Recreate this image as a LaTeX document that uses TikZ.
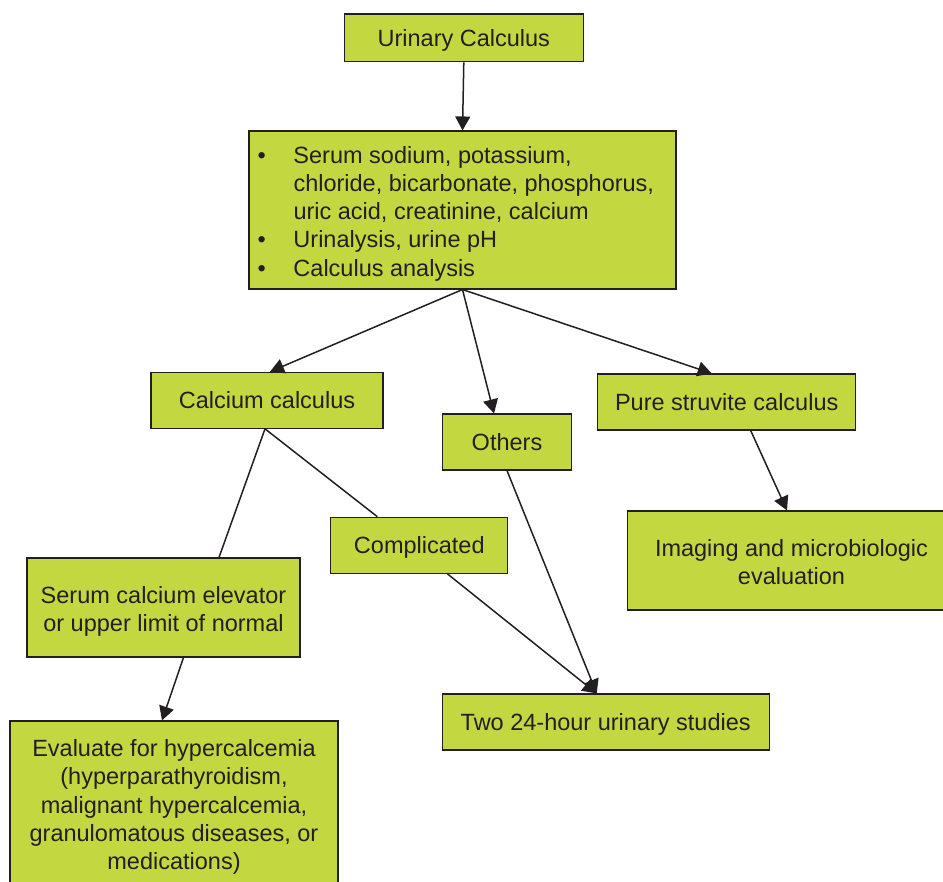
\documentclass[tikz,border=0pt]{standalone}
\usepackage{fontspec}
\setmainfont{Liberation Sans}
\usetikzlibrary{arrows.meta}
\definecolor{boxgreen}{RGB}{195,216,64}
\definecolor{inkdark}{RGB}{35,31,32}
% several centred lines, set a little lower in their box
\newcommand{\lowered}[2][4pt]{\raisebox{-#1}[\height][\depth]{\begin{tabular}{@{}c@{}}#2\end{tabular}}}
\begin{document}
\begin{tikzpicture}[x=1pt, y=-1pt,
    box/.style={draw=inkdark, line width=1.1pt, fill=boxgreen, text=inkdark, rectangle, inner sep=0pt, align=center,
        font=\fontsize{23.5}{28.3}\selectfont,
        execute at begin node={\rule{0pt}{22.8pt}}, execute at end node={\rule[-6pt]{0pt}{0pt}}},
    link/.style={draw=inkdark, line width=1.5pt},
    arr/.style={link, -{Triangle[length=14pt, width=15pt]}}]
    \useasboundingbox (0,0) rectangle (943,882);
    \node at (463.8,37.9) [box, minimum width=239pt, minimum height=47.7pt] (urinary) {Urinary Calculus};
    \node at (462.5,210) [box, minimum width=427pt, minimum height=158pt] (tests) {%
        \raisebox{-4pt}[\height][\depth]{\begin{tabular}{@{}p{36pt}@{}p{374pt}@{}}
            \textbullet & Serum sodium, potassium,\\
                        & chloride, bicarbonate, phosphorus,\\
                        & uric acid, creatinine, calcium\\
            \textbullet & Urinalysis, urine pH\\
            \textbullet & Calculus analysis
        \end{tabular}}};
    \node at (267,400.3) [box, minimum width=232pt, minimum height=56pt] (calcium) {Calcium calculus};
    \node at (507,442) [box, minimum width=129pt, minimum height=56pt] (others) {Others};
    \node at (726.7,402) [box, minimum width=258pt, minimum height=56pt] (struvite) {Pure struvite calculus};
    \node at (419.3,545.2) [box, minimum width=177pt, minimum height=56pt] (complicated) {Complicated};
    \node at (791.5,560.5) [box, minimum width=328pt, minimum height=99pt] (imaging) {\lowered{Imaging and microbiologic\\evaluation}};
    \node at (163.5,607.5) [box, minimum width=273pt, minimum height=99pt] (serum) {\lowered{Serum calcium elevator\\or upper limit of normal}};
    \node at (605.7,722) [box, minimum width=327pt, minimum height=56pt] (urinestudies) {Two 24-hour urinary studies};
    \node at (174,804.5) [box, minimum width=328pt, minimum height=167pt] (hypercalcemia) {\lowered[3pt]{Evaluate for hypercalcemia\\(hyperparathyroidism,\\malignant hypercalcemia,\\granulomatous diseases, or\\medications)}};
    % connectors
    \draw[arr] (urinary.south) -- (tests.north);
    \draw[arr] (tests.south) -- ([xshift=3pt]calcium.north);
    \draw[arr] (tests.south) -- ([xshift=-13pt]others.north);
    \draw[arr] (tests.south) -- ([xshift=-15pt]struvite.north);
    \draw[link] ([xshift=-2pt]calcium.south) -- ([xshift=55.5pt]serum.north);
    \draw[link] ([xshift=-2pt]calcium.south) -- ([xshift=-42pt]complicated.north);
    \draw[arr] ([xshift=28pt]complicated.south) -- ([xshift=-9pt]urinestudies.north);
    \draw[arr] (others.south) -- ([xshift=-9pt]urinestudies.north);
    \draw[arr] ([xshift=20pt]serum.south) -- ([xshift=-12pt]hypercalcemia.north);
    \draw[arr] ([xshift=24pt]struvite.south) -- ([xshift=-4.5pt]imaging.north);
\end{tikzpicture}
\end{document}
